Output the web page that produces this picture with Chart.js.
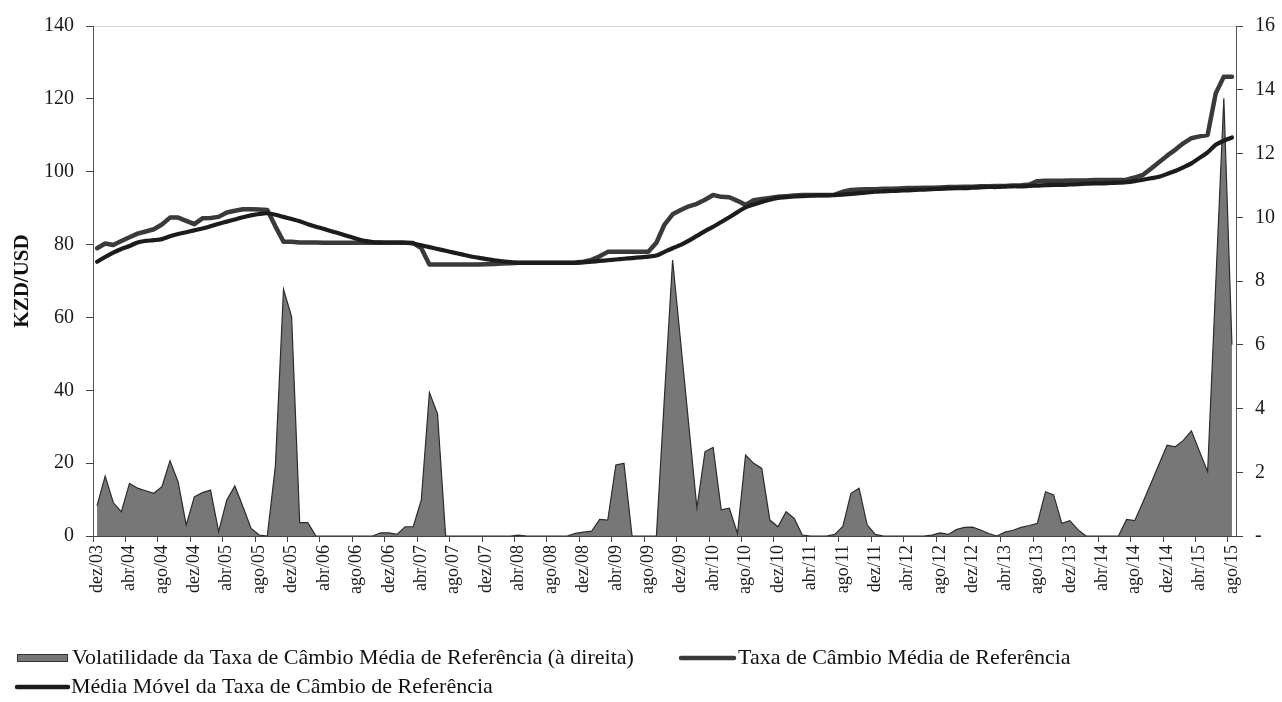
<!DOCTYPE html>
<html>
<head>
<meta charset="utf-8">
<script src="https://cdn.jsdelivr.net/npm/chart.js@4.4.1/dist/chart.umd.min.js"></script>
<style>
  html, body { margin: 0; padding: 0; background: #ffffff; }
  #wrap { width: 1282px; height: 702px; position: relative; }
</style>
</head>
<body>
<div id="wrap"><canvas id="c" width="1282" height="702"></canvas></div>
<script>
// ---- categories (monthly, dez/03 .. ago/15) ----
const monthAbbr = ['jan','fev','mar','abr','mai','jun','jul','ago','set','out','nov','dez'];
const categories = [];
for (let k = 0; k < 141; k++) {
  const m = (11 + k) % 12;
  const y = 3 + Math.floor((11 + k) / 12);
  categories.push(monthAbbr[m] + '/' + String(y).padStart(2, '0'));
}

// ---- series: Volatilidade (right axis) ----
const volatilidade = [
  0.95, 1.88, 1.05, 0.76, 1.65, 1.50, 1.42, 1.34, 1.55, 2.36,
  1.70, 0.35, 1.23, 1.36, 1.44, 0.14, 1.13, 1.57, 0.92, 0.24,
  0.03, 0.00, 2.20, 7.74, 6.88, 0.42, 0.42, 0.00, 0.00, 0.00,
  0.00, 0.00, 0.00, 0.00, 0.00, 0.10, 0.10, 0.05, 0.29, 0.29,
  1.13, 4.50, 3.83, 0.00, 0.00, 0.00, 0.00, 0.00, 0.00, 0.00,
  0.00, 0.00, 0.03, 0.00, 0.00, 0.00, 0.00, 0.00, 0.00, 0.08,
  0.12, 0.15, 0.52, 0.50, 2.23, 2.28, 0.00, 0.00, 0.00, 0.00,
  4.40, 8.66, 6.07, 3.47, 0.88, 2.65, 2.78, 0.82, 0.87, 0.08,
  2.54, 2.28, 2.12, 0.50, 0.29, 0.76, 0.55, 0.03, 0.00, 0.00,
  0.00, 0.05, 0.30, 1.34, 1.50, 0.35, 0.05, 0.00, 0.00, 0.00,
  0.00, 0.00, 0.00, 0.03, 0.10, 0.05, 0.20, 0.27, 0.28, 0.19,
  0.08, 0.00, 0.12, 0.18, 0.27, 0.33, 0.40, 1.39, 1.29, 0.40,
  0.48, 0.20, 0.00, 0.00, 0.00, 0.00, 0.00, 0.52, 0.48, 1.05,
  1.65, 2.25, 2.85, 2.80, 3.00, 3.30, 2.65, 2.02, 7.90, 13.73,
  6.00
];

// ---- series: Taxa de Câmbio Média de Referência (left axis) ----
const taxa = [
  79.0, 80.3, 79.9, 81.0, 82.0, 83.0, 83.6, 84.2, 85.5, 87.4,
  87.4, 86.5, 85.6, 87.2, 87.3, 87.6, 88.8, 89.3, 89.7, 89.7,
  89.6, 89.5, 85.0, 80.8, 80.8, 80.6, 80.6, 80.6, 80.5, 80.5,
  80.5, 80.5, 80.5, 80.5, 80.5, 80.5, 80.6, 80.6, 80.5, 80.4,
  79.0, 74.5, 74.5, 74.5, 74.5, 74.5, 74.5, 74.5, 74.6, 74.7,
  74.8, 74.9, 75.0, 75.0, 75.0, 75.0, 75.0, 75.0, 75.0, 75.1,
  75.3, 75.8, 76.8, 78.0, 78.0, 78.0, 78.0, 78.0, 78.0, 80.5,
  85.5, 88.3, 89.5, 90.5, 91.2, 92.3, 93.6, 93.1, 93.0, 92.0,
  90.9, 92.2, 92.5, 92.8, 93.1, 93.3, 93.5, 93.6, 93.6, 93.6,
  93.6, 93.7, 94.5, 95.0, 95.1, 95.2, 95.2, 95.3, 95.3, 95.4,
  95.5, 95.5, 95.6, 95.6, 95.7, 95.8, 95.8, 95.9, 95.9, 96.0,
  96.0, 96.1, 96.1, 96.2, 96.3, 96.5, 97.4, 97.5, 97.5, 97.5,
  97.6, 97.6, 97.6, 97.7, 97.7, 97.7, 97.7, 97.8, 98.4, 99.1,
  100.8, 102.6, 104.4, 106.0, 107.8, 109.2, 109.7, 110.1, 121.5, 126.1,
  126.1
];

// ---- series: Média Móvel da Taxa de Câmbio de Referência (left axis) ----
const mediaMovel = [
  75.3, 76.6, 77.8, 78.8, 79.6, 80.6, 81.0, 81.2, 81.5, 82.3,
  82.9, 83.4, 83.9, 84.4, 85.0, 85.7, 86.3, 86.9, 87.5, 88.0,
  88.4, 88.6, 88.2, 87.6, 87.0, 86.4, 85.6, 84.9, 84.3, 83.6,
  83.0, 82.3, 81.6, 81.0, 80.7, 80.6, 80.5, 80.5, 80.5, 80.3,
  79.8, 79.3, 78.8, 78.3, 77.8, 77.3, 76.8, 76.4, 76.0, 75.7,
  75.4, 75.2, 75.0, 75.0, 75.0, 75.0, 75.0, 75.0, 75.0, 75.0,
  75.1, 75.3, 75.5, 75.7, 75.9, 76.1, 76.3, 76.5, 76.7, 77.0,
  78.0, 79.0, 79.9, 81.1, 82.4, 83.7, 84.9, 86.2, 87.5, 88.9,
  90.2, 91.0, 91.7, 92.3, 92.8, 93.0, 93.2, 93.3, 93.4, 93.5,
  93.5, 93.6, 93.7, 93.9, 94.1, 94.3, 94.5, 94.6, 94.7, 94.8,
  94.9, 95.0, 95.1, 95.2, 95.3, 95.4, 95.5, 95.5, 95.6, 95.7,
  95.8, 95.8, 95.9, 96.0, 96.0, 96.1, 96.2, 96.3, 96.4, 96.4,
  96.5, 96.6, 96.7, 96.8, 96.8, 96.9, 97.0, 97.1, 97.4, 97.8,
  98.2, 98.6, 99.4, 100.2, 101.2, 102.3, 103.8, 105.3, 107.4, 108.5,
  109.4
];

// ---- legend texts / axis texts ----
const seriesNames = [
  'Volatilidade da Taxa de Câmbio Média de Referência (à direita)',
  'Taxa de Câmbio Média de Referência',
  'Média Móvel da Taxa de Câmbio de Referência'
];
const leftAxisTitle = 'KZD/USD';
const leftTicks = { min: 0, max: 140, step: 20 };
const rightTicks = { min: 0, max: 16, step: 2 };

const FONT = "'Liberation Serif', 'Times New Roman', serif";
const AREA_FILL = '#777777';
const AREA_EDGE = '#2c2c2c';
const TAXA_COLOR = '#3a3a3a';
const MM_COLOR = '#1c1c1c';

// Excel-like legend drawn below the axis (two rows)
const excelLegend = {
  id: 'excelLegend',
  afterDraw(chart) {
    const ctx = chart.ctx;
    ctx.save();
    ctx.font = '22px ' + FONT;
    ctx.fillStyle = '#111111';
    ctx.textBaseline = 'middle';
    ctx.textAlign = 'left';
    const row1 = 658, row2 = 687;
    // item 1: filled box
    ctx.fillStyle = AREA_FILL;
    ctx.fillRect(17, row1 - 3.5, 51, 7);
    ctx.strokeStyle = '#333333';
    ctx.lineWidth = 1;
    ctx.strokeRect(17.5, row1 - 3.5, 50, 7);
    ctx.fillStyle = '#111111';
    ctx.fillText(seriesNames[0], 72, row1);
    // item 2: line
    ctx.strokeStyle = TAXA_COLOR;
    ctx.lineWidth = 4.5;
    ctx.lineCap = 'round';
    ctx.beginPath(); ctx.moveTo(681, row1); ctx.lineTo(734, row1); ctx.stroke();
    ctx.fillText(seriesNames[1], 738, row1);
    // item 3: line
    ctx.strokeStyle = MM_COLOR;
    ctx.beginPath(); ctx.moveTo(17, row2); ctx.lineTo(68, row2); ctx.stroke();
    ctx.fillText(seriesNames[2], 71, row2);
    ctx.restore();
  }
};

new Chart(document.getElementById('c'), {
  type: 'line',
  data: {
    labels: categories,
    datasets: [
      {
        label: seriesNames[0],
        data: volatilidade,
        yAxisID: 'y1',
        fill: 'origin',
        backgroundColor: AREA_FILL,
        borderColor: AREA_EDGE,
        borderWidth: 1.2,
        pointRadius: 0,
        tension: 0,
        order: 3
      },
      {
        label: seriesNames[1],
        data: taxa,
        yAxisID: 'y',
        fill: false,
        borderColor: TAXA_COLOR,
        borderWidth: 4.5,
        pointRadius: 0,
        tension: 0,
        borderJoinStyle: 'round',
        borderCapStyle: 'round',
        order: 2
      },
      {
        label: seriesNames[2],
        data: mediaMovel,
        yAxisID: 'y',
        fill: false,
        borderColor: MM_COLOR,
        borderWidth: 4.2,
        pointRadius: 0,
        tension: 0.3,
        borderJoinStyle: 'round',
        borderCapStyle: 'round',
        order: 1
      }
    ]
  },
  options: {
    responsive: false,
    animation: false,
    devicePixelRatio: 1,
    layout: { padding: { top: 26, left: 0, right: 0, bottom: 68 } },
    plugins: {
      tooltip: { enabled: false },
      title: { display: false },
      legend: { display: false }
    },
    scales: {
      x: {
        type: 'category',
        offset: true,
        afterFit(scale) { scale.height = 98; },
        border: { display: true, color: '#444444', width: 1 },
        grid: {
          offset: true,
          drawOnChartArea: false,
          drawTicks: true,
          tickLength: 6,
          tickWidth: 1,
          tickColor: (ctx) => (ctx.index !== undefined && ctx.index % 4 === 0) ? '#444444' : 'rgba(0,0,0,0)'
        },
        ticks: {
          autoSkip: false,
          maxRotation: 90,
          minRotation: 90,
          padding: 3,
          color: '#1a1a1a',
          font: { family: FONT, size: 18 },
          callback(value, index) { return index % 4 === 0 ? categories[index] : ''; }
        }
      },
      y: {
        position: 'left',
        min: leftTicks.min,
        max: leftTicks.max,
        afterFit(scale) { scale.width = 93; },
        border: { display: true, color: '#555555', width: 1 },
        grid: {
          drawOnChartArea: true,
          tickLength: 7,
          color: (ctx) => (ctx.tick && ctx.tick.value === leftTicks.max) ? '#d4d4d4' : 'rgba(0,0,0,0)',
          tickColor: '#444444'
        },
        ticks: {
          stepSize: leftTicks.step,
          padding: 12,
          color: '#1a1a1a',
          font: { family: FONT, size: 20 }
        },
        title: {
          display: true,
          text: leftAxisTitle,
          color: '#111111',
          font: { family: FONT, size: 21, weight: 'bold' },
          padding: { top: 10, bottom: 4 }
        }
      },
      y1: {
        position: 'right',
        min: rightTicks.min,
        max: rightTicks.max,
        afterFit(scale) { scale.width = 46; },
        border: { display: true, color: '#555555', width: 1 },
        grid: {
          drawOnChartArea: false,
          tickLength: 7,
          tickColor: '#444444'
        },
        ticks: {
          stepSize: rightTicks.step,
          padding: 12,
          color: '#1a1a1a',
          font: { family: FONT, size: 20 },
          callback(value) { return value === 0 ? '-' : String(value); }
        }
      }
    }
  },
  plugins: [excelLegend]
});
</script>
</body>
</html>
